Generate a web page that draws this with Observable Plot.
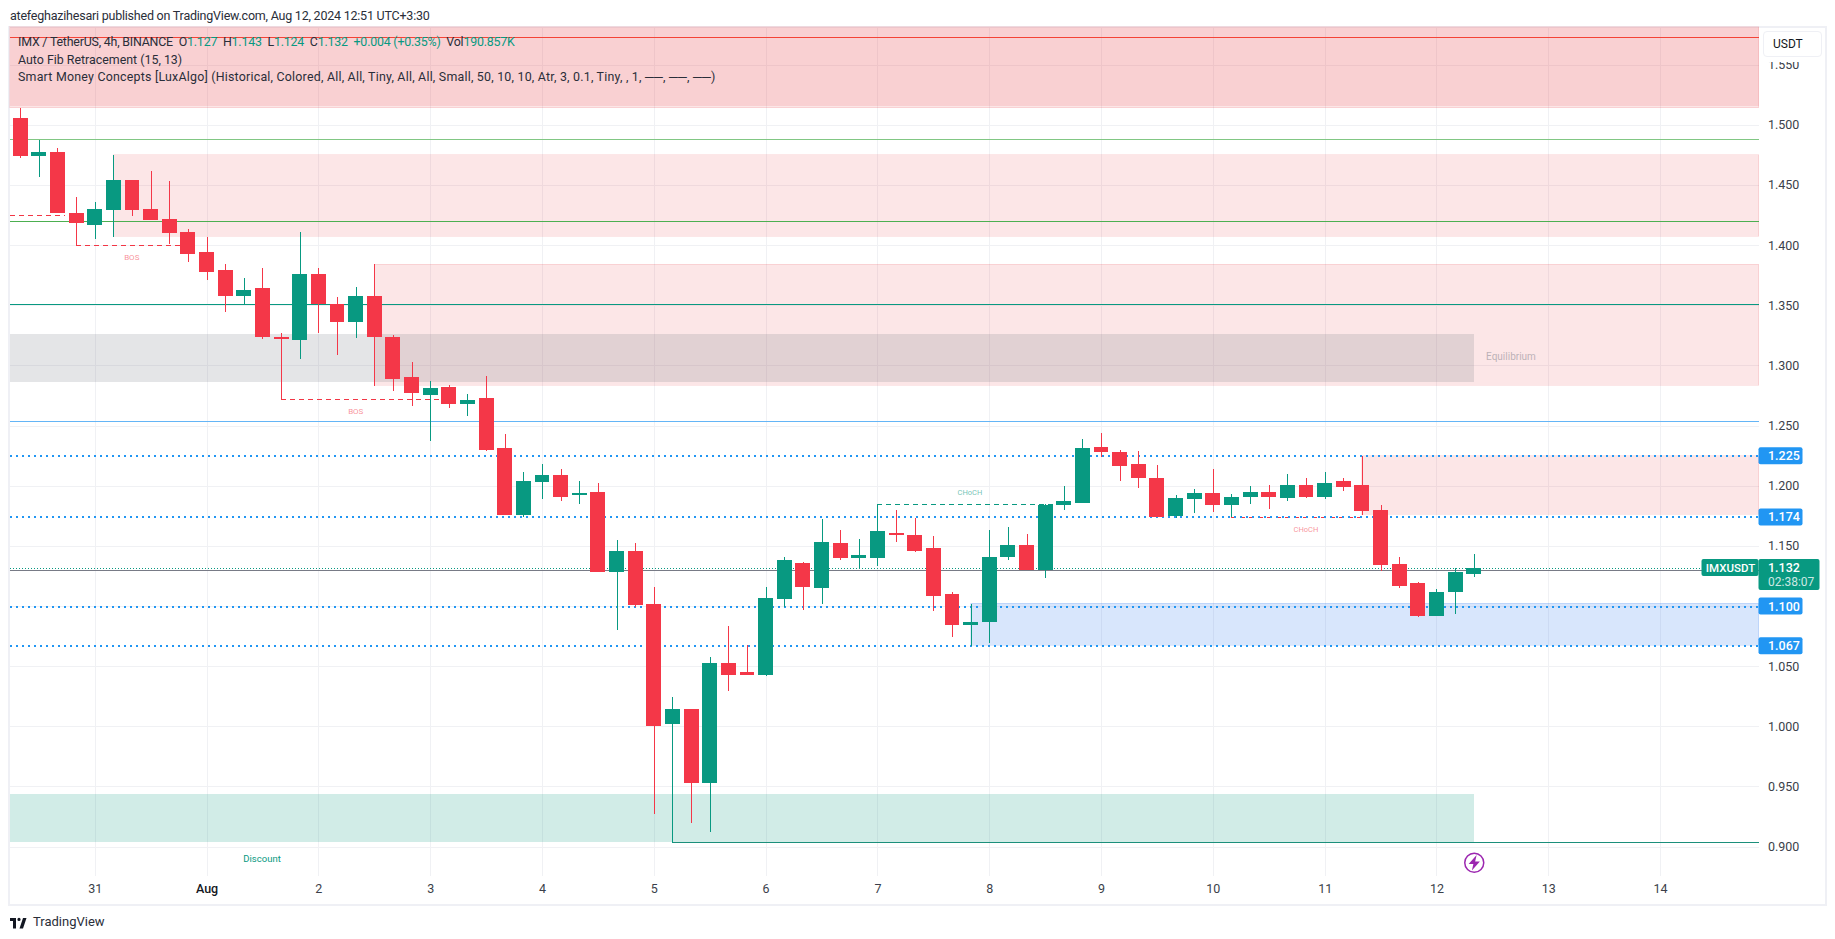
<!DOCTYPE html>
<html><head><meta charset="utf-8">
<script src="https://cdn.jsdelivr.net/npm/d3@7"></script>
<script src="https://cdn.jsdelivr.net/npm/@observablehq/plot@0.6"></script>
<style>
html,body{margin:0;padding:0;background:#fff;width:1835px;height:939px;overflow:hidden}
#wrap{position:relative;width:1835px;height:939px;font-family:Roboto,sans-serif;color:#131722}
#frame{position:absolute;left:8px;top:26px;width:1815px;height:876px;border:2px solid #eff0f5;box-sizing:content-box}
#chart{position:absolute;left:0;top:0}
.t{position:absolute;white-space:nowrap}
#title{left:10px;top:8px;font-size:12.5px;color:#2a2e39;letter-spacing:-.22px}
.leg{left:18px;font-size:12.4px;color:#2a2e39}
.leg b{font-weight:400;color:#089981}
#usdt{position:absolute;left:1763px;top:31px;width:59px;height:26px;box-sizing:border-box;border:1px solid #eff0f5;border-radius:4px;background:#fff;box-shadow:0 5px 0 #fff;font-size:12px;line-height:24px;padding-left:9px;color:#131722}
#logo{left:9px;top:914px;display:flex;align-items:center;gap:6px;font-size:13px;color:#2a2e39}
</style></head><body>
<div id="wrap">
<div id="frame"></div>
<div id="chart"></div>
<div class="t" id="title">atefeghazihesari published on TradingView.com, Aug 12, 2024 12:51 UTC+3:30</div>
<div class="t leg" style="top:34px;letter-spacing:-.2px">IMX / TetherUS, 4h, BINANCE&nbsp; O<b>1.127</b>&nbsp; H<b>1.143</b>&nbsp; L<b>1.124</b>&nbsp; C<b>1.132</b>&nbsp; <b>+0.004 (+0.35%)</b>&nbsp; Vol<b>190.857K</b></div>
<div class="t leg" style="top:52px">Auto Fib Retracement (15, 13)</div>
<div class="t leg" style="top:69px;letter-spacing:.22px">Smart Money Concepts [LuxAlgo] (Historical, Colored, All, All, Tiny, All, All, Small, 50, 10, 10, Atr, 3, 0.1, Tiny, , 1, ──, ──, ──)</div>
<div id="usdt">USDT</div>
<div class="t" id="logo"><svg width="18" height="14" viewBox="0 0 36 28"><path fill="#131722" d="M14 6H2v6h6v15h6V6Zm14 21h-7l7-21h7l-7 21ZM20 12a3.2 3.2 0 1 0 0-6.4 3.2 3.2 0 0 0 0 6.4Z"/></svg><span>TradingView</span></div>
</div>
<script>
const opens=[1.506,1.474,1.477,1.427,1.417,1.429,1.454,1.430,1.422,1.411,1.394,1.379,1.358,1.364,1.324,1.321,1.376,1.351,1.336,1.358,1.324,1.290,1.275,1.282,1.268,1.273,1.231,1.176,1.203,1.209,1.192,1.195,1.128,1.146,1.102,1.002,1.014,0.953,1.053,1.045,1.043,1.106,1.136,1.115,1.152,1.140,1.140,1.161,1.159,1.148,1.110,1.084,1.087,1.141,1.151,1.130,1.184,1.186,1.232,1.228,1.218,1.206,1.175,1.189,1.194,1.184,1.191,1.195,1.190,1.201,1.191,1.204,1.201,1.180,1.135,1.119,1.092,1.112,1.127];
const highs=[1.514,1.487,1.481,1.440,1.436,1.475,1.454,1.462,1.453,1.413,1.407,1.384,1.373,1.381,1.327,1.411,1.381,1.357,1.365,1.384,1.325,1.303,1.287,1.284,1.276,1.291,1.243,1.211,1.218,1.214,1.204,1.202,1.155,1.152,1.116,1.024,1.014,1.058,1.083,1.068,1.116,1.141,1.137,1.172,1.163,1.156,1.185,1.180,1.173,1.158,1.112,1.102,1.163,1.166,1.160,1.185,1.200,1.239,1.244,1.230,1.229,1.217,1.192,1.197,1.214,1.193,1.200,1.201,1.210,1.206,1.211,1.206,1.225,1.184,1.141,1.120,1.114,1.132,1.143];
const lows=[1.472,1.457,1.427,1.400,1.405,1.407,1.424,1.421,1.401,1.386,1.371,1.344,1.351,1.322,1.272,1.305,1.327,1.309,1.323,1.283,1.279,1.266,1.237,1.265,1.258,1.229,1.176,1.174,1.189,1.187,1.185,1.128,1.080,1.099,0.927,0.903,0.920,0.912,1.029,1.043,1.042,1.099,1.097,1.102,1.138,1.132,1.133,1.153,1.145,1.096,1.074,1.067,1.069,1.138,1.130,1.123,1.180,1.186,1.224,1.204,1.198,1.174,1.173,1.177,1.178,1.174,1.185,1.181,1.187,1.190,1.189,1.196,1.176,1.129,1.115,1.091,1.092,1.093,1.124];
const closes=[1.474,1.477,1.427,1.418,1.430,1.454,1.429,1.421,1.410,1.393,1.378,1.358,1.363,1.324,1.322,1.376,1.351,1.336,1.358,1.324,1.289,1.277,1.281,1.268,1.271,1.230,1.176,1.204,1.209,1.191,1.194,1.128,1.146,1.101,1.000,1.014,0.953,1.053,1.043,1.043,1.107,1.138,1.116,1.153,1.140,1.142,1.162,1.159,1.146,1.108,1.084,1.087,1.141,1.151,1.130,1.184,1.187,1.231,1.228,1.216,1.206,1.174,1.190,1.194,1.184,1.191,1.195,1.191,1.201,1.191,1.202,1.199,1.179,1.134,1.117,1.092,1.112,1.128,1.132];

const xMin=-0.574, xMax=93.28, yMin=0.876, yMax=1.5817;
const priceTicks=[0.90,0.95,1.00,1.05,1.10,1.15,1.20,1.25,1.30,1.35,1.40,1.45,1.50,1.55];
const dayTicks=[4,16,22,28,34,40,46,52,58,64,70,76,82,88];
const dayLabels=["31","2","3","4","5","6","7","8","9","10","11","12","13","14"];
const monthTicks=[10];
const allDayTicks=[4,10,16,22,28,34,40,46,52,58,64,70,76,82,88];
const upColor="#089981", downColor="#f43748", zoneRed="#ea3a45";

// zones: left candle, right candle, lower price, upper price, colour, alpha, edge alpha
const zones=[
 {a:xMin,b:xMax,lo:1.5155,hi:yMax,c:zoneRed,o:.13,e:0},
 {a:xMin,b:xMax,lo:1.5142,hi:yMax,c:zoneRed,o:.13,e:.12},
 {a:5,b:xMax,lo:1.4074,hi:1.4753,c:zoneRed,o:.13,e:.12},
 {a:19,b:xMax,lo:1.2836,hi:1.3839,c:zoneRed,o:.13,e:.12},
 {a:72,b:xMax,lo:1.1763,hi:1.2251,c:zoneRed,o:.13,e:.12},
 {a:51,b:xMax,lo:1.0672,hi:1.1021,c:"#2f7bef",o:.19,e:.15},
 {a:xMin,b:78,lo:1.2866,hi:1.3265,c:"#787b86",o:.2,e:0},
 {a:xMin,b:78,lo:0.9035,hi:0.9434,c:"#089981",o:.19,e:0}
];
const fibLevels=[{p:1.5728,c:"#f44336"},{p:1.4884,c:"#81c784"},{p:1.4202,c:"#4caf50"},{p:1.3512,c:"#089981"},{p:1.2539,c:"#64b5f6"}];
const structures=[
 {a:xMin,b:2.43,p:1.4252,c:"#f23645"},
 {a:3,b:8.55,p:1.400,c:"#f23645"},
 {a:14,b:22.6,p:1.2722,c:"#f23645"},
 {a:46,b:55.6,p:1.185,c:"#089981"},
 {a:65,b:72.3,p:1.174,c:"#f23645"}
];
const keyLevels=[1.225,1.174,1.100,1.067];
const lastPrice=1.132, prevLine=1.1301, strongLow=0.9035, strongLowFrom=35;
const notes=[
 {x:5.96,p:1.3903,t:"BOS",c:"#f23645",s:8,o:.55},
 {x:17.98,p:1.2619,t:"BOS",c:"#f23645",s:8,o:.55},
 {x:50.94,p:1.1946,t:"CHoCH",c:"#089981",s:7.5,o:.6},
 {x:68.97,p:1.1642,t:"CHoCH",c:"#f23645",s:7.5,o:.55},
 {x:79.97,p:1.3074,t:"Equilibrium",c:"#787b86",s:10,o:.5},
 {x:12.95,p:0.8904,t:"Discount",c:"#089981",s:9.5,o:1}
];
const flash=[{x:78,p:0.887}];

const candles=opens.map((o,i)=>({i,o,h:highs[i],l:lows[i],c:closes[i],col:closes[i]>=o?upColor:downColor}));
const bolt={draw(ctx,size){const s=Math.sqrt(size)/6;
 ctx.moveTo(1.6*s,-5.2*s);ctx.lineTo(-3.8*s,0.9*s);ctx.lineTo(-0.6*s,0.9*s);ctx.lineTo(-1.6*s,5.2*s);
 ctx.lineTo(3.8*s,-0.9*s);ctx.lineTo(0.6*s,-0.9*s);ctx.closePath();}};

const chart=Plot.plot({
 width:1835,height:939,marginLeft:9.5,marginRight:76.5,marginTop:26.5,marginBottom:63.5,
 style:{background:"transparent",fontFamily:"Roboto,sans-serif",overflow:"visible"},
 x:{type:"linear",domain:[xMin,xMax],axis:null},
 y:{type:"linear",domain:[yMin,yMax],axis:null},
 marks:[
  Plot.gridX(allDayTicks,{stroke:"#f0f1f4",strokeOpacity:1,strokeWidth:1,shapeRendering:"crispEdges"}),
  Plot.gridY(priceTicks,{stroke:"#f0f1f4",strokeOpacity:1,strokeWidth:1,shapeRendering:"crispEdges"}),
  Plot.rect(zones,{x1:"a",x2:"b",y1:"lo",y2:"hi",fill:"c",fillOpacity:"o",stroke:"c",strokeOpacity:"e",shapeRendering:"crispEdges"}),
  Plot.ruleY(fibLevels,{y:"p",stroke:"c",strokeWidth:1,shapeRendering:"crispEdges"}),
  Plot.ruleY(structures,{y:"p",x1:"a",x2:"b",stroke:"c",strokeWidth:1,strokeDasharray:"5 4",shapeRendering:"crispEdges"}),
  Plot.ruleY([{p:strongLow,a:strongLowFrom,b:xMax}],{y:"p",x1:"a",x2:"b",stroke:"#1b8f7b",strokeWidth:1,shapeRendering:"crispEdges"}),
  Plot.ruleY(keyLevels,{stroke:"#2196f3",strokeWidth:2,strokeDasharray:"2 4",shapeRendering:"crispEdges"}),
  Plot.ruleY([prevLine],{stroke:"#787b86",strokeWidth:1,shapeRendering:"crispEdges"}),
  Plot.ruleY([lastPrice],{stroke:upColor,strokeWidth:1,strokeDasharray:"1 2",shapeRendering:"crispEdges"}),
  Plot.ruleX(candles,{x:"i",y1:"l",y2:"h",stroke:"col",strokeWidth:1,shapeRendering:"crispEdges"}),
  Plot.rect(candles,{x1:d=>d.i-.4,x2:d=>d.i+.4,y1:"o",y2:"c",fill:"col",shapeRendering:"crispEdges"}),
  Plot.text(notes,{x:"x",y:"p",text:"t",fill:"c",fillOpacity:"o",fontSize:"s"}),
  Plot.dot(flash,{x:"x",y:"p",r:9.5,stroke:"#9c27b0",strokeWidth:1.5,fill:"white"}),
  Plot.dot(flash,{x:"x",y:"p",r:5,symbol:bolt,fill:"#9c27b0",stroke:"none"}),
  Plot.axisY(priceTicks,{anchor:"right",tickSize:0,tickPadding:9,fontSize:12.5,fill:"#3b3f4a",tickFormat:d=>d.toFixed(3),textAnchor:"start",label:null}),
  Plot.axisX(dayTicks,{anchor:"bottom",tickSize:0,tickPadding:8,fontSize:12.5,fill:"#3b3f4a",tickFormat:(d,i)=>dayLabels[i],label:null}),
  Plot.axisX(monthTicks,{anchor:"bottom",tickSize:0,tickPadding:8,fontSize:12.5,fill:"#131722",fontWeight:500,tickFormat:()=>"Aug",label:null}),
  Plot.rect(keyLevels,{x1:xMax,x2:xMax,y1:d=>d,y2:d=>d,insetRight:-44,insetTop:-8.5,insetBottom:-8.5,fill:"#2196f3",rx:2}),
  Plot.text(keyLevels,{x:xMax,y:d=>d,text:d=>d.toFixed(3),dx:9,textAnchor:"start",fill:"white",fontSize:12.5,fontWeight:500}),
  Plot.rect([lastPrice],{x1:xMax,x2:xMax,y1:d=>d,y2:d=>d,insetLeft:-57,fill:upColor,insetTop:-8.5,insetBottom:-8.5,rx:2}),
  Plot.rect([lastPrice],{x1:xMax,x2:xMax,y1:d=>d,y2:d=>d,insetRight:-61,insetTop:-8.5,insetBottom:-22.5,fill:upColor,rx:2}),
  Plot.text([lastPrice],{x:xMax,y:d=>d,text:()=>"IMXUSDT",dx:-28.5,fill:"white",fontSize:11.5,fontWeight:500}),
  Plot.text([lastPrice],{x:xMax,y:d=>d,text:d=>d.toFixed(3),dx:9,textAnchor:"start",fill:"white",fontSize:12.5,fontWeight:500}),
  Plot.text([lastPrice],{x:xMax,y:d=>d,text:()=>"02:38:07",dx:9,dy:14,textAnchor:"start",fill:"#ffffffcc",fontSize:12})
 ]
});
document.getElementById("chart").append(chart);
</script>
</body></html>
